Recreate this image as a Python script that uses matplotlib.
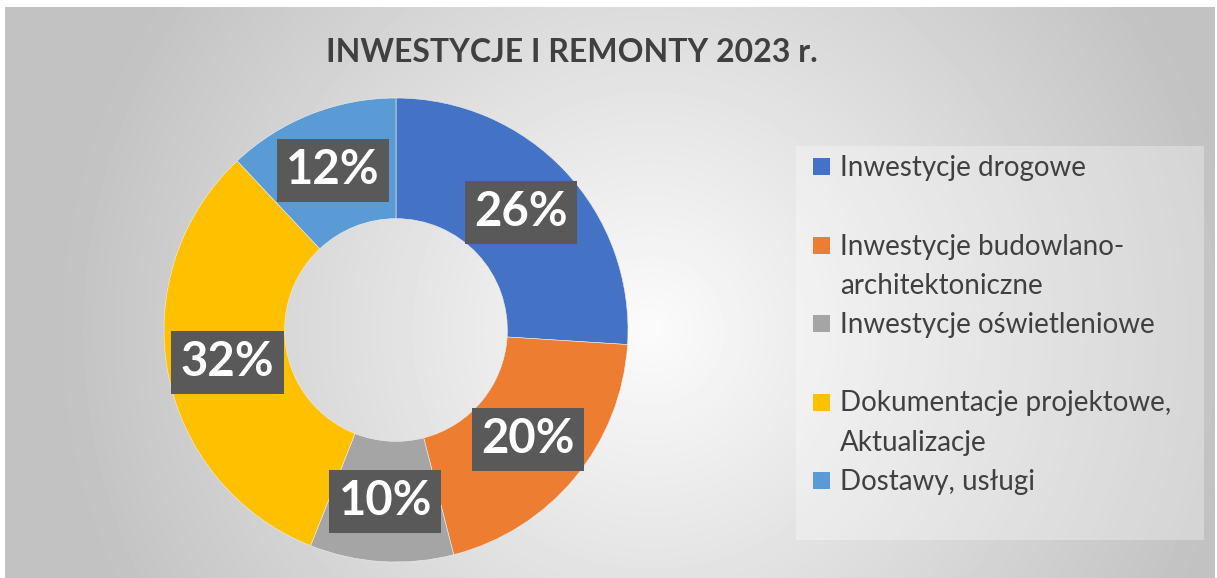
import matplotlib

matplotlib.use("Agg")

import matplotlib.pyplot as plt
import numpy as np
from matplotlib.patches import Rectangle

W, H = 1217, 578

categories = [
    "Inwestycje drogowe",
    "Inwestycje budowlano-\narchitektoniczne",
    "Inwestycje oświetleniowe",
    "Dokumentacje projektowe,\nAktualizacje",
    "Dostawy, usługi",
]
shares = [26, 20, 10, 32, 12]
colors = ["#4472C4", "#ED7D31", "#A5A5A5", "#FFC000", "#5B9BD5"]
title = "INWESTYCJE I REMONTY 2023 r."

plt.rcParams["font.family"] = ["Lato", "DejaVu Sans"]
TEXT = "#404040"


def px(x, y):
    # pixel coords (top-left origin) -> figure fraction
    return x / W, 1 - y / H


fig = plt.figure(figsize=(W / 100, H / 100), dpi=100, facecolor="white")

# radial grey background, brightest right of the donut
bg = fig.add_axes([5 / W, 0, (W - 7) / W, (H - 7) / H], zorder=0)
yy, xx = np.mgrid[7:H, 5:W - 2]
d = np.hypot(xx - 650, yy - 330)
shade = np.clip(0.985 - 0.00038 * d, 0.76, 1)
bg.imshow(shade, cmap="gray", vmin=0, vmax=1, aspect="auto", interpolation="bilinear")
bg.axis("off")

# donut
cx, cy, r = 396, 330, 232
x0, y0 = px(cx - r, cy + r)
ax = fig.add_axes([x0, y0, 2 * r / W, 2 * r / H], zorder=1)
ax.patch.set_alpha(0)
wedges, _, pcts = ax.pie(
    shares,
    colors=colors,
    startangle=90,
    counterclock=False,
    radius=1,
    autopct="%.0f%%",
    pctdistance=0.74,
    wedgeprops=dict(width=0.52, edgecolor="#eeeeee", linewidth=0.4),
    textprops=dict(color="white", fontsize=34, fontweight="bold"),
)
for t in pcts:
    t.set_bbox(dict(boxstyle="square,pad=0.2", facecolor="#595959", edgecolor="none"))
ax.set_xlim(-1, 1)
ax.set_ylim(-1, 1)
ax.axis("off")

fig.text(*px(572, 52), title, ha="center", va="center",
         fontsize=23, fontweight="bold", color=TEXT, zorder=3)

# legend panel
lx, ly = px(796, 540)
fig.patches.append(Rectangle((lx, ly), (1204 - 796) / W, (540 - 146) / H,
                             transform=fig.transFigure, facecolor="white",
                             alpha=0.3, edgecolor="none", zorder=2))
step = 78.5
for i, (lab, col) in enumerate(zip(categories, colors)):
    base = 176 + i * step
    sx, sy = px(813, base - 1)
    fig.patches.append(Rectangle((sx, sy), 17 / W, 17 / H, transform=fig.transFigure,
                                 facecolor=col, edgecolor="none", zorder=3))
    for j, line in enumerate(lab.split("\n")):
        fig.text(*px(840, base + j * 39), line, ha="left", va="baseline",
                 fontsize=20, color=TEXT, zorder=3)

fig.savefig("out.png", dpi=100, facecolor="white")
